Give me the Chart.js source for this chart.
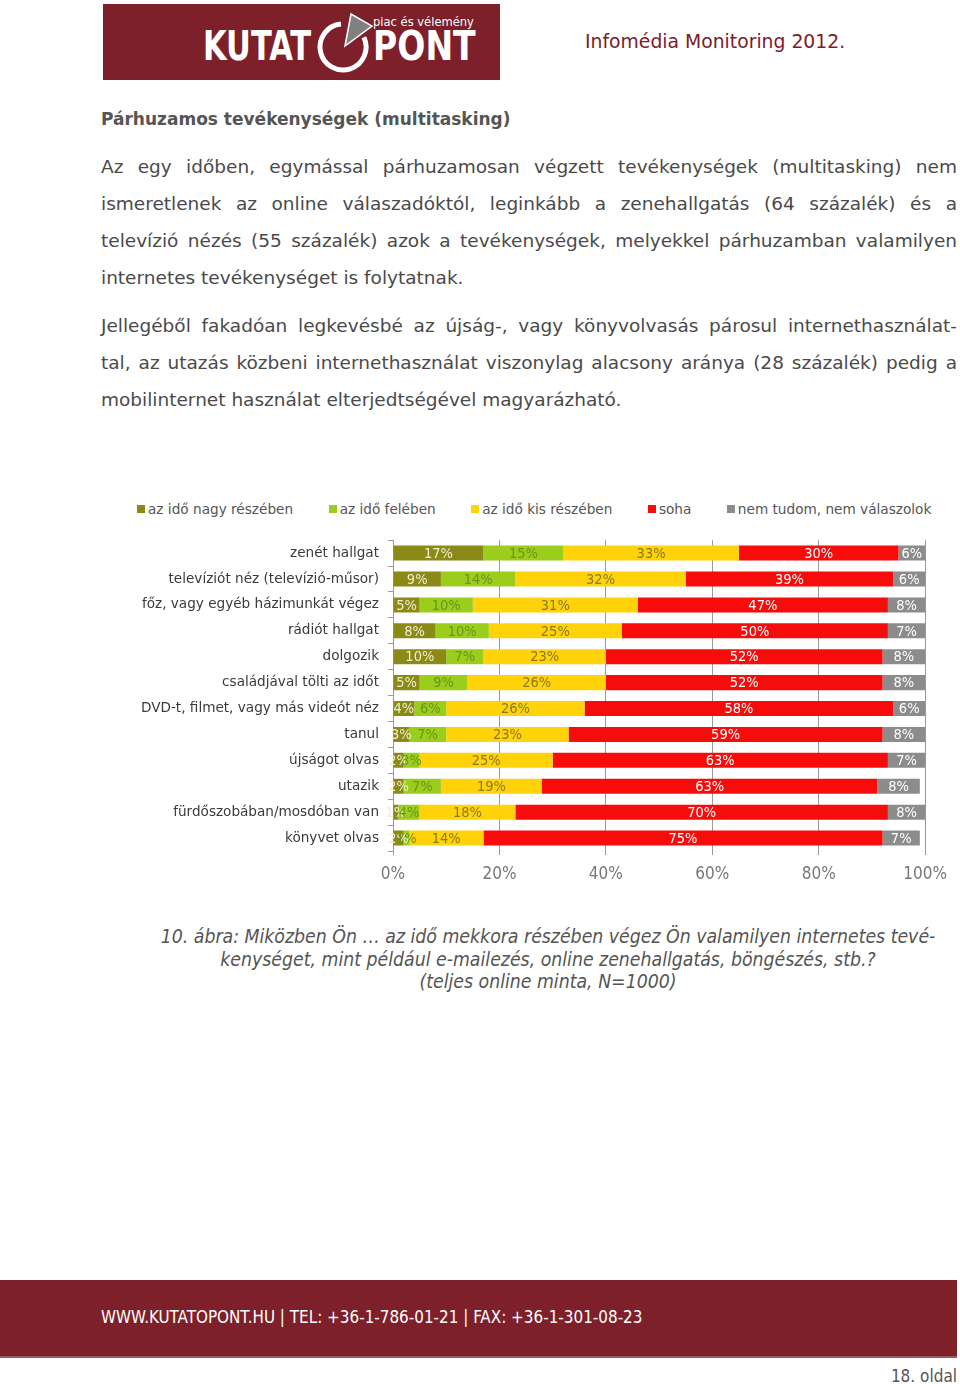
<!DOCTYPE html>
<html lang="hu">
<head>
<meta charset="utf-8">
<title>Párhuzamos tevékenységek (multitasking)</title>
<script src="https://cdn.jsdelivr.net/npm/chart.js@4.4.1/dist/chart.umd.min.js"></script>
<style>
  body { margin: 0; width: 960px; height: 1384px; position: relative; overflow: hidden; background: #fff; font-family: "DejaVu Sans", sans-serif; color: #4d4d4d; }
  .abs { position: absolute; }
  #logo { left: 103px; top: 4px; width: 397px; height: 76px; background: #7d2029; }
  .logoword { position: absolute; top: 12px; color: #fff; font: bold 40px "DejaVu Sans Condensed", "DejaVu Sans", sans-serif; line-height: 60px; transform-origin: left center; white-space: nowrap; }
  #tagline { position: absolute; left: 270px; top: 10px; color: #fff; font: 12.8px "DejaVu Sans Condensed", sans-serif; white-space: nowrap; }
  #issue { left: 585px; top: 30px; color: #7b1c2c; font-size: 18.8px; line-height: 24px; white-space: nowrap; }
  h1 { position: absolute; left: 101px; top: 107px; margin: 0; font-size: 17px; line-height: 24px; font-weight: bold; color: #555; white-space: nowrap; }
  .para { position: absolute; left: 101px; width: 856px; font-size: 18.5px; line-height: 37px; color: #4a4a4a; }
  .para div { white-space: nowrap; text-align: justify; text-align-last: justify; }
  .para div.last { text-align-last: left; }
  #legend { left: 137px; top: 500px; display: flex; gap: 35.5px; font-size: 13.65px; line-height: 18px; color: #555; white-space: nowrap; }
  #legend span.item { display: flex; align-items: center; }
  #legend i { display: inline-block; width: 8px; height: 8px; margin-right: 3px; }
  #chartBox { left: 130px; top: 523px; width: 826px; height: 368px; }
  #caption { left: 60px; top: 926px; width: 976px; text-align: center; font: oblique 19.3px "DejaVu Sans Condensed", "DejaVu Sans", sans-serif; line-height: 22.5px; color: #555; }
  #footer { left: 0; top: 1280px; width: 957px; height: 76px; background: #7d2029; border-bottom: 2px solid #a05560; }
  #footer span { position: absolute; left: 101px; top: 27px; color: #fff; font: 16.9px "DejaVu Sans Condensed", sans-serif; line-height: 20px; white-space: nowrap; }
  #page { right: 3px; top: 1366px; font: 17px "DejaVu Sans Condensed", sans-serif; color: #555; line-height: 20px; }
</style>
</head>
<body>

<div id="logo" class="abs">
  <span class="logoword" style="left:100px; transform:scaleX(0.85);">KUTAT</span>
  <svg class="abs" style="left:212px; top:4px;" width="66" height="70" viewBox="0 0 66 70">
    <path d="M48.9,29.3 A23,23 0 1 1 26,16.1" fill="none" stroke="#fff" stroke-width="5"/>
    <polygon points="30,38 36,6 57,18" fill="#808080" stroke="#fff" stroke-width="1.5"/>
  </svg>
  <span class="logoword" style="left:270px; transform:scaleX(0.92);">PONT</span>
  <span id="tagline">piac és vélemény</span>
</div>
<div id="issue" class="abs">Infomédia Monitoring 2012.</div>

<h1>Párhuzamos tevékenységek (multitasking)</h1>

<div class="para" style="top:148px;">
  <div>Az egy időben, egymással párhuzamosan végzett tevékenységek (multitasking) nem</div>
  <div>ismeretlenek az online válaszadóktól, leginkább a zenehallgatás (64 százalék) és a</div>
  <div>televízió nézés (55 százalék) azok a tevékenységek, melyekkel párhuzamban valamilyen</div>
  <div class="last">internetes tevékenységet is folytatnak.</div>
</div>
<div class="para" style="top:307px;">
  <div>Jellegéből fakadóan legkevésbé az újság-, vagy könyvolvasás párosul internethasznála­t-</div>
  <div>tal, az utazás közbeni internethasználat viszonylag alacsony aránya (28 százalék) pedig a</div>
  <div class="last">mobilinternet használat elterjedtségével magyarázható.</div>
</div>

<div id="legend" class="abs"></div>
<div id="chartBox" class="abs"><canvas id="chart"></canvas></div>

<div id="caption" class="abs">
  10. ábra: Miközben Ön … az idő mekkora részében végez Ön valamilyen internetes tevé-<br>
  kenységet, mint például e-mailezés, online zenehallgatás, böngészés, stb.?<br>
  (teljes online minta, N=1000)
</div>

<div id="footer" class="abs"><span>WWW.KUTATOPONT.HU | TEL: +36-1-786-01-21 | FAX: +36-1-301-08-23</span></div>
<div id="page" class="abs">18. oldal</div>

<script>
// Adatok (százalék)
const categories = [
    'zenét hallgat',
    'televíziót néz (televízió-műsor)',
    'főz, vagy egyéb házimunkát végez',
    'rádiót hallgat',
    'dolgozik',
    'családjával tölti az időt',
    'DVD-t, filmet, vagy más videót néz',
    'tanul',
    'újságot olvas',
    'utazik',
    'fürdőszobában/mosdóban van',
    'könyvet olvas'
];
const seriesNames = ['az idő nagy részében', 'az idő felében', 'az idő kis részében', 'soha', 'nem tudom, nem válaszolok'];
const nagyReszeben = [17, 9, 5, 8, 10, 5, 4, 3, 2, 2, 1, 2];
const feleben      = [15, 14, 10, 10, 7, 9, 6, 7, 3, 7, 4, 1];
const kisReszeben  = [33, 32, 31, 25, 23, 26, 26, 23, 25, 19, 18, 14];
const soha         = [30, 39, 47, 50, 52, 52, 58, 59, 63, 63, 70, 75];
const nemTudom     = [6, 6, 8, 7, 8, 8, 6, 8, 7, 8, 8, 7];
const xTicks = [0, 20, 40, 60, 80, 100];

const barColors = ['#8b8a16', '#9acd1c', '#ffd20a', '#f70c0c', '#8c8c8c'];
const textColors = ['#efeed0', '#6e931a', '#8a7a1c', '#ffffff', '#ffffff'];

// Jelmagyarázat
const legend = document.getElementById('legend');
seriesNames.forEach((name, i) => {
    const item = document.createElement('span');
    item.className = 'item';
    item.innerHTML = `<i style="background:${barColors[i]}"></i>${name}`;
    legend.appendChild(item);
});

const labelFont = '"Liberation Sans Narrow", "DejaVu Sans Condensed", sans-serif';

const barLabels = {
    id: 'barLabels',
    afterDatasetsDraw(chart) {
        const { ctx, chartArea } = chart;
        ctx.save();
        ctx.font = '14.5px ' + labelFont;
        ctx.textAlign = 'center';
        ctx.textBaseline = 'middle';
        chart.data.datasets.forEach((ds, i) => {
            ctx.fillStyle = textColors[i];
            chart.getDatasetMeta(i).data.forEach((bar, j) => {
                const right = Math.min(bar.x, chartArea.right);
                const left = Math.min(bar.base, chartArea.right);
                ctx.fillText(ds.data[j] + '%', (left + right) / 2, bar.y + 1);
            });
        });
        ctx.restore();
    }
};

const values = [nagyReszeben, feleben, kisReszeben, soha, nemTudom];

new Chart(document.getElementById('chart'), {
    type: 'bar',
    data: {
        labels: categories,
        datasets: values.map((data, i) => ({
            label: seriesNames[i],
            data: data,
            backgroundColor: barColors[i],
            borderWidth: 0,
            barPercentage: 0.58,
            categoryPercentage: 1
        }))
    },
    options: {
        indexAxis: 'y',
        responsive: true,
        maintainAspectRatio: false,
        animation: false,
        layout: { padding: { top: 9, right: 30, bottom: 0, left: 0 } },
        plugins: { legend: { display: false }, tooltip: { enabled: false } },
        scales: {
            x: {
                stacked: true,
                min: 0,
                max: 100,
                afterBuildTicks: (axis) => { axis.ticks = xTicks.map(v => ({ value: v })); },
                afterFit: (axis) => { axis.height = 40; },
                ticks: {
                    callback: (v) => v + '%',
                    color: '#777',
                    font: { family: labelFont, size: 17 },
                    padding: 9
                },
                grid: { color: '#9a9a9a', tickLength: 4 },
                border: { display: false }
            },
            y: {
                stacked: true,
                afterFit: (axis) => { axis.width = 263; },
                ticks: {
                    color: '#3a3a3a',
                    font: { family: '"DejaVu Sans", sans-serif', size: 13.6 },
                    padding: 9
                },
                grid: { drawOnChartArea: false, color: '#9a9a9a', tickLength: 5, offset: true },
                border: { color: '#9a9a9a' }
            }
        }
    },
    plugins: [barLabels]
});
</script>
</body>
</html>
